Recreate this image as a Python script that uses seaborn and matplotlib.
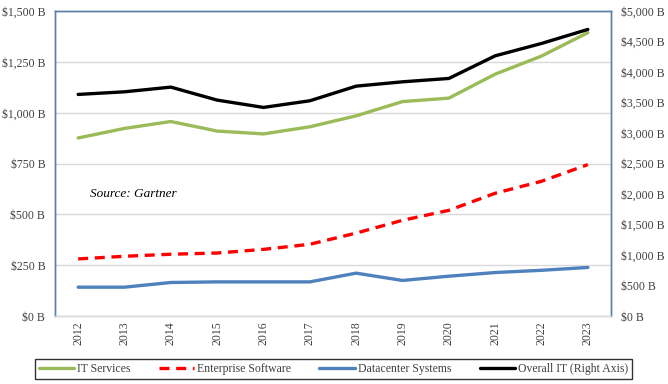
import matplotlib
matplotlib.use("Agg")
import matplotlib.pyplot as plt
import seaborn as sns
import numpy as np
from matplotlib.ticker import FuncFormatter, MultipleLocator
from matplotlib.lines import Line2D

years = ["2012", "2013", "2014", "2015", "2016", "2017",
         "2018", "2019", "2020", "2021", "2022", "2023"]
it_services = [876, 923, 957, 910, 896, 931, 985, 1055, 1072, 1190, 1279, 1394]
enterprise_software = [281, 294, 304, 310, 328, 353, 408, 471, 520, 604, 663, 745]
datacenter_systems = [142, 142, 165, 168, 168, 168, 211, 175, 196, 214, 225, 239]
overall_it = [3634, 3677, 3754, 3541, 3421, 3530, 3770, 3841, 3896, 4267, 4470, 4700]

sns.set_theme(style="white")
plt.rcParams['font.family'] = ['Liberation Serif', 'DejaVu Serif']

green = "#9BBB59"
red = "#FF0000"
blue = "#4F81BD"
frame = "#5B7FA6"

fig = plt.figure(figsize=(6.68, 3.84), dpi=100)
ax = fig.add_axes([0.0823, 0.177, 0.8324, 0.794])
ax2 = ax.twinx()

x = np.arange(len(years))
sns.lineplot(x=x, y=it_services, ax=ax, color=green, lw=2.4)
sns.lineplot(x=x, y=enterprise_software, ax=ax, color=red, lw=2.4)
ax.lines[-1].set_dashes((3, 2))
sns.lineplot(x=x, y=datacenter_systems, ax=ax, color=blue, lw=2.4)
sns.lineplot(x=x, y=overall_it, ax=ax2, color="black", lw=2.4)

ax.set_xlim(-0.5, len(years) - 0.5)
ax.set_ylim(0, 1500)
ax2.set_ylim(0, 5000)
ax.yaxis.set_major_locator(MultipleLocator(250))
ax2.yaxis.set_major_locator(MultipleLocator(500))
fmt = FuncFormatter(lambda v, p: f"${v:,.0f} B")
ax.yaxis.set_major_formatter(fmt)
ax2.yaxis.set_major_formatter(fmt)
ax.set_xticks(x)
ax.set_xticklabels(years, rotation=90)
ax.grid(axis="y", color="#D9D9D9", lw=1)
ax.set_axisbelow(True)

for a in (ax, ax2):
    a.tick_params(length=0, labelsize=8.5, colors="#404040", pad=4)
    for s in a.spines.values():
        s.set_color(frame)
        s.set_linewidth(1)
    a.spines["bottom"].set_color("#D9D9D9")
ax2.grid(False)
ax.tick_params(axis="y", pad=7)
ax2.tick_params(axis="y", pad=7)

ax.text(0.26, 600, "Source: Gartner", fontsize=9.5, style="italic",
        color="black", va="center")

handles = [
    Line2D([], [], color=green, lw=2.4),
    Line2D([], [], color=red, lw=2.4, dashes=(3, 2)),
    Line2D([], [], color=blue, lw=2.4),
    Line2D([], [], color="black", lw=2.4),
]
labels = ["IT Services", "Enterprise Software", "Datacenter Systems", "Overall IT (Right Axis)"]
leg = fig.legend(handles, labels, loc="center", bbox_to_anchor=(0.499, 0.040),
                 ncol=4, fontsize=8.5, frameon=True, fancybox=False,
                 handlelength=3.0, columnspacing=2.4, handletextpad=0.25,
                 borderpad=0.35, borderaxespad=0)
leg.get_frame().set_edgecolor("black")
leg.get_frame().set_linewidth(1)
for t in leg.get_texts():
    t.set_color("#404040")

fig.savefig("out.png", dpi=100)
